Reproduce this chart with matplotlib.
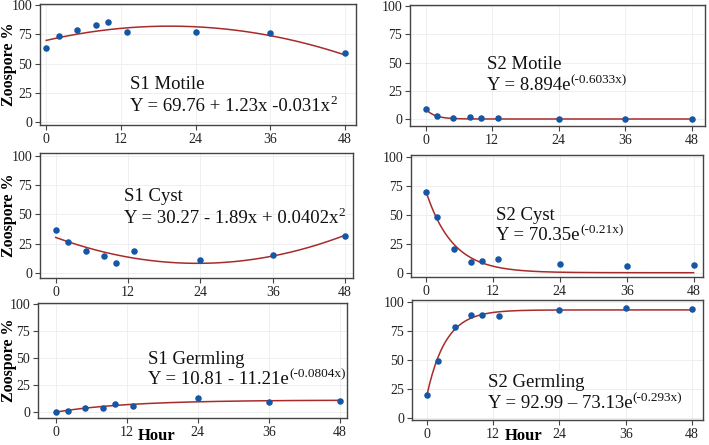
import numpy as np
import matplotlib.pyplot as plt

plt.rcParams['font.family'] = ['Liberation Serif', 'DejaVu Serif']

# sampling hours
hours = [0, 2, 5, 8, 10, 13, 24, 36, 48]

# observed zoospore % per panel
s1_motile = [63.4, 73.7, 78.9, 82.9, 85.1, 76.6, 76.6, 76.3, 59.1]
s2_motile = [9.1, 2.4, 1.2, 1.8, 1.2, 0.9, 0.3, 0.3, 0.3]
s1_cyst = [36.6, 26.0, 18.6, 14.0, 8.3, 18.6, 11.1, 15.1, 31.4]
s2_cyst = [70.2, 48.6, 20.8, 9.5, 10.4, 11.6, 7.2, 5.8, 6.4]
s1_germ = [0.0, 0.9, 3.1, 3.7, 6.8, 5.3, 12.7, 9.0, 9.9]
s2_germ = [20.3, 49.4, 78.0, 88.9, 88.9, 87.4, 92.9, 94.6, 94.0]

# fitted coefficients as printed on the chart
quad_s1_motile = [69.76, 1.23, -0.031]
quad_s1_cyst = [30.27, -1.89, 0.0402]
exp_s2_motile = [8.894, -0.6033]
exp_s2_cyst = [70.35, -0.21]
asym_s1_germ = [10.81, 11.21, -0.0804]
asym_s2_germ = [92.99, 73.13, -0.293]

titles = ['S1 Motile', 'S2 Motile', 'S1 Cyst', 'S2 Cyst', 'S1 Germling', 'S2 Germling']
eq_main = ['Y = 69.76 + 1.23x -0.031x', 'Y = 8.894e', 'Y = 30.27 - 1.89x + 0.0402x',
           'Y = 70.35e', 'Y = 10.81 - 11.21e', 'Y = 92.99 – 73.13e']
eq_sup = ['2', '(-0.6033x)', '2', '(-0.21x)', '(-0.0804x)', '(-0.293x)']

xs = np.linspace(0, 48, 200)
fits = [
    quad_s1_motile[0] + quad_s1_motile[1] * xs + quad_s1_motile[2] * xs ** 2,
    exp_s2_motile[0] * np.exp(exp_s2_motile[1] * xs),
    quad_s1_cyst[0] + quad_s1_cyst[1] * xs + quad_s1_cyst[2] * xs ** 2,
    exp_s2_cyst[0] * np.exp(exp_s2_cyst[1] * xs),
    asym_s1_germ[0] - asym_s1_germ[1] * np.exp(asym_s1_germ[2] * xs),
    asym_s2_germ[0] - asym_s2_germ[1] * np.exp(asym_s2_germ[2] * xs),
]
observed = [s1_motile, s2_motile, s1_cyst, s2_cyst, s1_germ, s2_germ]

W, H = 709, 445
# panel boxes in pixels: left, top, right, bottom
boxes = [(40, 4, 356, 125), (410, 5, 705, 126),
         (40, 153, 353, 278), (411, 155, 703, 277),
         (38, 303, 347, 418), (412, 300, 703, 420)]
xlims = [(-1.0, 49.8), (-2.8, 50.4), (-2.6, 49.3), (-2.7, 49.7), (-3.0, 49.2), (-2.7, 50.0)]
ylims = [(-2.6, 100.9), (-6.2, 100.9), (-4.5, 102.6), (-3.7, 102.0), (-5.9, 101.2), (-1.4, 101.5)]
# text anchor (axes fraction): x, title baseline, equation baseline
text_pos = [(0.285, 0.295, 0.116), (0.26, 0.469, 0.30),
            (0.268, 0.616, 0.443), (0.292, 0.467, 0.303),
            (0.357, 0.468, 0.295), (0.26, 0.278, 0.098)]

fig = plt.figure(figsize=(W / 100, H / 100), dpi=100)
for i in range(6):
    l, t, r, b = boxes[i]
    ax = fig.add_axes([l / W, 1 - b / H, (r - l) / W, (b - t) / H])
    ax.plot(xs, fits[i], color='#a82b2b', lw=1.1, zorder=2)
    ax.scatter(hours, observed[i], s=22, color='#1557a5', zorder=3, linewidths=0)
    ax.set_xlim(*xlims[i])
    ax.set_ylim(*ylims[i])
    ax.set_xticks([0, 12, 24, 36, 48])
    ax.set_yticks([0, 25, 50, 75, 100])
    ax.grid(True, color='#ececec', lw=0.6)
    ax.set_axisbelow(True)
    for sp in ax.spines.values():
        sp.set_color('#444444')
        sp.set_linewidth(1.0)
    ax.tick_params(direction='out', length=3.5, width=0.8, color='#444444',
                   labelsize=10, labelcolor='#222222', pad=2)
    tx, ty1, ty2 = text_pos[i]
    ax.text(tx, ty1, titles[i], transform=ax.transAxes, fontsize=13.5,
            va='baseline', ha='left', color='#111111')
    main = ax.text(tx, ty2, eq_main[i], transform=ax.transAxes, fontsize=13.5,
                   va='baseline', ha='left', color='#111111')
    # superscript placed right after the main equation text
    fig.canvas.draw()
    bb = main.get_window_extent()
    sx, _ = ax.transAxes.inverted().transform((bb.x1 + 0.5, bb.y0))
    ax.text(sx, ty2 + 6.5 / (b - t), eq_sup[i], transform=ax.transAxes,
            fontsize=9.5, va='baseline', ha='left', color='#111111')
    if i % 2 == 0:
        ax.set_ylabel('Zoospore %', fontsize=11.5, fontweight='bold')
        ax.yaxis.set_label_coords((17 - l) / (r - l), 0.5)
    if i >= 4:
        hx = (l + 0.385 * (r - l)) / W
        fig.text(hx, 1 - 436 / H, 'Hour', fontsize=12,
                 fontweight='bold', ha='center', va='center')

fig.savefig('out.png', dpi=100)
